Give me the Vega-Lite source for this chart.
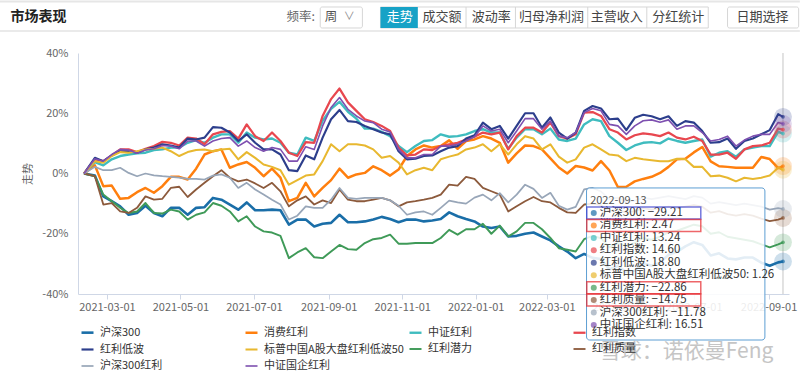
{
"$schema":"https://vega.github.io/schema/vega-lite/v6.json",
"width":711,"height":241,
"autosize":{"type":"none"},
"padding":{"left":78,"top":53,"right":11,"bottom":81},
"background":"#ffffff",
"config":{"font":"Noto Sans CJK SC","view":{"stroke":null},"axis":{"labelFont":"Noto Sans CJK SC","titleFont":"Noto Sans CJK SC"},"legend":{"labelFont":"Noto Sans CJK SC"}},
"datasets":{"main":[
{"d":"2021-02-10","沪深300":0,"消费红利":0,"中证红利":0,"红利指数":0,"红利低波":0,"标普中国A股大盘红利低波50":0,"红利潜力":0,"红利质量":0,"沪深300红利":0,"中证国企红利":0},
{"d":"2021-02-19","沪深300":-0.7,"消费红利":2.7,"中证红利":3.8,"红利指数":4.7,"红利低波":5.2,"标普中国A股大盘红利低波50":4.1,"红利潜力":-0.9,"红利质量":-0.9,"沪深300红利":2.2,"中证国企红利":4.9},
{"d":"2021-02-26","沪深300":-7.6,"消费红利":-4.2,"中证红利":2.7,"红利指数":4.1,"红利低波":4.1,"标普中国A股大盘红利低波50":3.6,"红利潜力":-7.0,"红利质量":-10.3,"沪深300红利":1.1,"中证国企红利":4.1},
{"d":"2021-03-05","沪深300":-9.2,"消费红利":-4.0,"中证红利":4.7,"红利指数":6.0,"红利低波":6.0,"标普中国A股大盘红利低波50":5.8,"红利潜力":-9.2,"红利质量":-9.8,"沪深300红利":1.1,"中证国企红利":6.3},
{"d":"2021-03-12","沪深300":-10.9,"消费红利":-8.4,"中证红利":5.8,"红利指数":8.0,"红利低波":7.4,"标普中国A股大盘红利低波50":7.1,"红利潜力":-11.4,"红利质量":-12.6,"沪深300红利":1.9,"中证国企红利":8.0},
{"d":"2021-03-19","沪深300":-13.7,"消费红利":-8.1,"中证红利":6.3,"红利指数":8.0,"红利低波":7.4,"标普中国A股大盘红利低波50":6.9,"红利潜力":-13.1,"红利质量":-13.1,"沪深300红利":0.2,"中证国企红利":7.8},
{"d":"2021-03-26","沪深300":-13.1,"消费红利":-6.2,"中证红利":6.7,"红利指数":7.1,"红利低波":6.9,"标普中国A股大盘红利低波50":7.4,"红利潜力":-12.6,"红利质量":-11.4,"沪深300红利":-0.9,"中证国企红利":6.7},
{"d":"2021-04-02","沪深300":-10.7,"消费红利":-4.8,"中证红利":6.9,"红利指数":8.2,"红利低波":8.0,"标普中国A股大盘红利低波50":8.0,"红利潜力":-9.8,"红利质量":-7.6,"沪深300红利":0,"中证国企红利":7.8},
{"d":"2021-04-09","沪深300":-13.1,"消费红利":-6.4,"中证红利":7.8,"红利指数":9.1,"红利低波":8.6,"标普中国A股大盘红利低波50":8.2,"红利潜力":-13.1,"红利质量":-8.7,"沪深300红利":-0.6,"中证国企红利":8.2},
{"d":"2021-04-16","沪深300":-14.2,"消费红利":-4.2,"中证红利":8.0,"红利指数":10.5,"红利低波":9.7,"标普中国A股大盘红利低波50":8.6,"红利潜力":-13.3,"红利质量":-8.4,"沪深300红利":-0.9,"中证国企红利":9.3},
{"d":"2021-04-23","沪深300":-11.4,"消费红利":-1.1,"中证红利":8.6,"红利指数":10.2,"红利低波":9.3,"标普中国A股大盘红利低波50":7.4,"红利潜力":-12.0,"红利质量":-4.8,"沪深300红利":-1.1,"中证国企红利":9.1},
{"d":"2021-04-30","沪深300":-11.4,"消费红利":-1.1,"中证红利":8.6,"红利指数":9.3,"红利低波":8.6,"标普中国A股大盘红利低波50":5.8,"红利潜力":-12.6,"红利质量":-4.4,"沪深300红利":-1.4,"中证国企红利":8.2},
{"d":"2021-05-07","沪深300":-13.7,"消费红利":-2.0,"中证红利":10.2,"红利指数":11.9,"红利低波":11.6,"标普中国A股大盘红利低波50":7.1,"红利潜力":-15.3,"红利质量":-7.8,"沪深300红利":-1.8,"中证国企红利":10.8},
{"d":"2021-05-14","沪深300":-11.4,"消费红利":1.6,"中证红利":11.1,"红利指数":11.6,"红利低波":11.3,"标普中国A股大盘红利低波50":7.8,"红利潜力":-13.7,"红利质量":-5.3,"沪深300红利":-1.8,"中证国企红利":10.8},
{"d":"2021-05-21","沪深300":-11.2,"消费红利":6.3,"中证红利":10.2,"红利指数":9.7,"红利低波":11.9,"标普中国A股大盘红利低波50":8.0,"红利潜力":-12.9,"红利质量":-3.1,"沪深300红利":-2.0,"中证国企红利":9.1},
{"d":"2021-05-28","沪深300":-8.1,"消费红利":7.4,"中证红利":11.9,"红利指数":13.0,"红利低波":15.4,"标普中国A股大盘红利低波50":7.4,"红利潜力":-9.8,"红利质量":-0.9,"沪深300红利":-0.7,"中证国企红利":10.8},
{"d":"2021-06-04","沪深300":-8.7,"消费红利":8.0,"中证红利":13.0,"红利指数":13.8,"红利低波":15.2,"标普中国A股大盘红利低波50":8.0,"红利潜力":-10.7,"红利质量":1.1,"沪深300红利":-0.3,"中证国企红利":11.6},
{"d":"2021-06-11","沪深300":-10.3,"消费红利":1.9,"中证红利":13.0,"红利指数":14.1,"红利低波":13.6,"标普中国A股大盘红利低波50":8.2,"红利潜力":-12.6,"红利质量":-1.4,"沪深300红利":-1.4,"中证国企红利":11.9},
{"d":"2021-06-18","沪深300":-12.0,"消费红利":3.0,"中证红利":10.2,"红利指数":11.6,"红利低波":10.8,"标普中国A股大盘红利低波50":4.7,"红利潜力":-15.9,"红利质量":-2.6,"沪深300红利":-4.8,"中证国企红利":9.1},
{"d":"2021-06-25","沪深300":-9.6,"消费红利":3.8,"中证红利":13.6,"红利指数":16.3,"红利低波":13.0,"标普中国A股大盘红利低波50":7.1,"红利潜力":-14.2,"红利质量":-2.0,"沪深300红利":-3.1,"中证国企红利":10.8},
{"d":"2021-07-02","沪深300":-12.2,"消费红利":1.9,"中证红利":11.9,"红利指数":12.4,"红利低波":10.2,"标普中国A股大盘红利低波50":5.2,"红利潜力":-17.6,"红利质量":-3.3,"沪深300红利":-5.3,"中证国企红利":8.6},
{"d":"2021-07-09","沪深300":-12.2,"消费红利":-0.9,"中证红利":11.3,"红利指数":10.8,"红利低波":8.0,"标普中国A股大盘红利低波50":3.0,"红利潜力":-19.2,"红利质量":-4.8,"沪深300红利":-7.0,"中证国企红利":7.4},
{"d":"2021-07-16","沪深300":-12.0,"消费红利":1.6,"中证红利":11.6,"红利指数":13.6,"红利低波":8.0,"标普中国A股大盘红利低波50":2.2,"红利潜力":-19.6,"红利质量":-3.1,"沪深300红利":-8.7,"中证国企红利":8.6},
{"d":"2021-07-23","沪深300":-12.2,"消费红利":-1.4,"中证红利":10.2,"红利指数":10.8,"红利低波":6.3,"标普中国A股大盘红利低波50":1.1,"红利潜力":-20.7,"红利质量":-5.9,"沪深300红利":-10.3,"中证国企红利":8.0},
{"d":"2021-07-30","沪深300":-17.0,"消费红利":-9.2,"中证红利":6.9,"红利指数":6.9,"红利低波":1.1,"标普中国A股大盘红利低波50":-3.7,"红利潜力":-28.1,"红利质量":-10.9,"沪深300红利":-15.3,"中证国企红利":4.1},
{"d":"2021-08-06","沪深300":-15.3,"消费红利":-8.1,"中证红利":6.3,"红利指数":5.8,"红利低波":0.8,"标普中国A股大盘红利低波50":-2.2,"红利潜力":-26.2,"红利质量":-8.9,"沪深300红利":-14.0,"中证国企红利":4.1},
{"d":"2021-08-13","沪深300":-15.3,"消费红利":-3.1,"中证红利":11.9,"红利指数":10.4,"红利低波":6.0,"标普中国A股大盘红利低波50":-0.7,"红利潜力":-24.8,"红利质量":-7.6,"沪深300红利":-10.9,"中证国企红利":8.9},
{"d":"2021-08-20","沪深300":-17.6,"消费红利":-7.6,"中证红利":10.8,"红利指数":10.2,"红利低波":4.7,"标普中国A股大盘红利低波50":-0.3,"红利潜力":-27.8,"红利质量":-10.3,"沪深300红利":-11.4,"中证国企红利":8.0},
{"d":"2021-08-27","沪深300":-16.7,"消费红利":-4.8,"中证红利":17.5,"红利指数":19.1,"红利低波":11.9,"标普中国A股大盘红利低波50":4.1,"红利潜力":-28.1,"红利质量":-8.9,"沪深300红利":-11.4,"中证国企红利":15.8},
{"d":"2021-09-03","沪深300":-16.4,"消费红利":-2.2,"中证红利":21.5,"红利指数":24.7,"红利低波":18.0,"标普中国A股大盘红利低波50":9.7,"红利潜力":-25.9,"红利质量":-9.8,"沪深300红利":-8.7,"中证国企红利":21.9},
{"d":"2021-09-10","沪深300":-13.7,"消费红利":1.6,"中证红利":23.8,"红利指数":28.2,"红利低波":21.1,"标普中国A股大盘红利低波50":7.4,"红利潜力":-23.7,"红利质量":-5.3,"沪深300红利":-4.8,"中证国企红利":25.2},
{"d":"2021-09-17","沪深300":-16.2,"消费红利":-1.4,"中证红利":20.5,"红利指数":23.6,"红利低波":17.4,"标普中国A股大盘红利低波50":9.7,"红利潜力":-25.1,"红利质量":-8.7,"沪深300红利":-8.1,"中证国企红利":21.3},
{"d":"2021-09-24","沪深300":-16.2,"消费红利":-0.3,"中证红利":18.2,"红利指数":20.8,"红利低波":17.1,"标普中国A股大盘红利低波50":9.7,"红利潜力":-25.3,"红利质量":-9.2,"沪深300红利":-8.4,"中证国企红利":19.1},
{"d":"2021-10-01","沪深300":-15.9,"消费红利":0.2,"中证红利":14.9,"红利指数":18.0,"红利低波":15.8,"标普中国A股大盘红利低波50":9.3,"红利潜力":-23.1,"红利质量":-9.2,"沪深300红利":-8.1,"中证国企红利":17.4},
{"d":"2021-10-08","沪深300":-15.3,"消费红利":2.4,"中证红利":14.9,"红利指数":17.1,"红利低波":14.7,"标普中国A股大盘红利低波50":8.0,"红利潜力":-21.8,"红利质量":-8.7,"沪深300红利":-8.1,"中证国企红利":16.9},
{"d":"2021-10-15","沪深300":-14.4,"消费红利":1.1,"中证红利":13.8,"红利指数":15.8,"红利低波":13.6,"标普中国A股大盘红利低波50":5.2,"红利潜力":-21.4,"红利质量":-8.1,"沪深300红利":-8.1,"中证国企红利":14.7},
{"d":"2021-10-22","沪深300":-15.1,"消费红利":-0.7,"中证红利":12.4,"红利指数":14.1,"红利低波":13.0,"标普中国A股大盘红利低波50":5.8,"红利潜力":-20.3,"红利质量":-8.9,"沪深300红利":-8.9,"中证国企红利":13.8},
{"d":"2021-10-29","沪深300":-16.2,"消费红利":1.3,"中证红利":9.1,"红利指数":8.6,"红利低波":7.4,"标普中国A股大盘红利低波50":3.6,"红利潜力":-23.3,"红利质量":-10.9,"沪深300红利":-10.7,"中证国企红利":8.0},
{"d":"2021-11-05","沪深300":-15.3,"消费红利":5.8,"中证红利":7.1,"红利指数":6.0,"红利低波":4.7,"标普中国A股大盘红利低波50":-0.3,"红利潜力":-23.3,"红利质量":-9.6,"沪深300红利":-13.7,"中证国企红利":5.2},
{"d":"2021-11-12","沪深300":-15.3,"消费红利":8.0,"中证红利":9.1,"红利指数":6.3,"红利低波":4.9,"标普中国A股大盘红利低波50":1.1,"红利潜力":-23.1,"红利质量":-9.2,"沪深300红利":-12.9,"中证国企红利":5.2},
{"d":"2021-11-19","沪深300":-15.9,"消费红利":9.3,"中证红利":10.8,"红利指数":8.0,"红利低波":5.8,"标普中国A股大盘红利低波50":1.9,"红利潜力":-23.1,"红利质量":-8.7,"沪深300红利":-12.6,"中证国企红利":6.3},
{"d":"2021-11-26","沪深300":-15.6,"消费红利":8.6,"中证红利":11.1,"红利指数":7.8,"红利低波":6.0,"标普中国A股大盘红利低波50":1.1,"红利潜力":-23.1,"红利质量":-8.1,"沪深300红利":-13.7,"中证国企红利":6.3},
{"d":"2021-12-03","沪深300":-15.1,"消费红利":9.1,"中证红利":13.0,"红利指数":9.1,"红利低波":7.4,"标普中国A股大盘红利低波50":4.7,"红利潜力":-21.4,"红利质量":-7.0,"沪深300红利":-11.4,"中证国企红利":9.1},
{"d":"2021-12-10","沪深300":-12.9,"消费红利":11.0,"中证红利":12.2,"红利指数":9.7,"红利低波":8.6,"标普中国A股大盘红利低波50":5.6,"红利潜力":-18.7,"红利质量":-3.7,"沪深300红利":-9.0,"中证国企红利":9.1},
{"d":"2021-12-17","沪深300":-14.2,"消费红利":8.2,"中证红利":12.4,"红利指数":10.2,"红利低波":9.1,"标普中国A股大盘红利低波50":6.3,"红利潜力":-20.3,"红利质量":-4.0,"沪深300红利":-9.6,"中证国企红利":9.7},
{"d":"2021-12-24","沪深300":-15.1,"消费红利":10.8,"中证红利":13.0,"红利指数":11.3,"红利低波":11.6,"标普中国A股大盘红利低波50":8.0,"红利潜力":-18.5,"红利质量":-1.1,"沪深300红利":-10.0,"中证国企红利":10.8},
{"d":"2021-12-31","沪深300":-15.9,"消费红利":11.3,"中证红利":14.1,"红利指数":12.2,"红利低波":12.7,"标普中国A股大盘红利低波50":8.6,"红利潜力":-18.5,"红利质量":-1.8,"沪深300红利":-8.0,"中证国企红利":12.2},
{"d":"2022-01-07","沪深300":-17.6,"消费红利":12.4,"中证红利":14.7,"红利指数":13.6,"红利低波":16.9,"标普中国A股大盘红利低波50":9.7,"红利潜力":-16.7,"红利质量":-4.8,"沪深300红利":-7.0,"中证国企红利":15.8},
{"d":"2022-01-14","沪深300":-18.1,"消费红利":11.6,"中证红利":13.6,"红利指数":13.0,"红利低波":14.7,"标普中国A股大盘红利低波50":7.4,"红利潜力":-20.0,"红利质量":-5.9,"沪深300红利":-8.9,"中证国企红利":14.1},
{"d":"2022-01-21","沪深300":-17.6,"消费红利":10.2,"中证红利":13.6,"红利指数":13.6,"红利低波":15.8,"标普中国A股大盘红利低波50":9.7,"红利潜力":-17.3,"红利质量":-7.0,"沪深300红利":-6.5,"中证国企红利":14.7},
{"d":"2022-01-28","沪深300":-20.9,"消费红利":3.6,"中证红利":8.2,"红利指数":8.0,"红利低波":11.6,"标普中国A股大盘红利低波50":6.3,"红利潜力":-20.9,"红利质量":-12.6,"沪深300红利":-9.6,"中证国企红利":10.2},
{"d":"2022-02-04","沪深300":-20.7,"消费红利":6.7,"中证红利":11.9,"红利指数":12.4,"红利低波":15.8,"标普中国A股大盘红利低波50":9.7,"红利潜力":-19.2,"红利质量":-10.9,"沪深300红利":-7.0,"中证国企红利":14.1},
{"d":"2022-02-11","沪深300":-20.0,"消费红利":9.3,"中证红利":14.7,"红利指数":15.2,"红利低波":20.0,"标普中国A股大盘红利低波50":12.4,"红利潜力":-16.4,"红利质量":-9.2,"沪深300红利":-3.7,"中证国企红利":18.2},
{"d":"2022-02-18","沪深300":-19.6,"消费红利":9.1,"中证红利":14.7,"红利指数":15.2,"红利低波":20.0,"标普中国A股大盘红利低波50":11.6,"红利潜力":-16.4,"红利质量":-7.8,"沪深300红利":-5.1,"中证国企红利":18.2},
{"d":"2022-02-25","沪深300":-20.9,"消费红利":8.0,"中证红利":13.0,"红利指数":13.6,"红利低波":15.2,"标普中国A股大盘红利低波50":8.0,"红利潜力":-18.5,"红利质量":-9.2,"沪深300红利":-8.1,"中证国企红利":14.7},
{"d":"2022-03-04","沪深300":-22.2,"消费红利":5.0,"中证红利":14.9,"红利指数":16.9,"红利低波":18.6,"标普中国A股大盘红利低波50":9.7,"红利潜力":-21.4,"红利质量":-9.6,"沪深300红利":-6.4,"中证国企红利":17.4},
{"d":"2022-03-11","沪深300":-24.2,"消费红利":2.0,"中证红利":11.3,"红利指数":12.4,"红利低波":13.6,"标普中国A股大盘红利低波50":5.6,"红利潜力":-24.8,"红利质量":-11.4,"沪深300红利":-10.7,"中证国企红利":12.4},
{"d":"2022-03-18","沪深300":-25.9,"消费红利":0.0,"中证红利":10.8,"红利指数":11.6,"红利低波":11.6,"标普中国A股大盘红利低波50":3.6,"红利潜力":-25.3,"红利质量":-12.9,"沪深300红利":-12.0,"中证国企红利":11.9},
{"d":"2022-03-25","沪深300":-28.1,"消费红利":2.5,"中证红利":11.6,"红利指数":13.0,"红利低波":13.6,"标普中国A股大盘红利低波50":4.7,"红利潜力":-25.9,"红利质量":-13.1,"沪深300红利":-11.1,"中证国企红利":13.6},
{"d":"2022-04-01","沪深300":-26.7,"消费红利":2.0,"中证红利":16.3,"红利指数":20.2,"红利低波":20.8,"标普中国A股大盘红利低波50":8.6,"红利潜力":-21.8,"红利质量":-10.3,"沪深300红利":-5.3,"中证国企红利":20.2},
{"d":"2022-04-08","沪深300":-28.0,"消费红利":1.0,"中证红利":18.0,"红利指数":20.4,"红利低波":22.4,"标普中国A股大盘红利低波50":9.7,"红利潜力":-20.7,"红利质量":-10.0,"沪深300红利":-4.8,"中证国企红利":21.6},
{"d":"2022-04-15","沪深300":-28.4,"消费红利":4.1,"中证红利":17.4,"红利指数":19.1,"红利低波":21.6,"标普中国A股大盘红利低波50":8.0,"红利潜力":-21.5,"红利质量":-10.5,"沪深300红利":-6.0,"中证国企红利":20.8},
{"d":"2022-04-22","沪深300":-31.8,"消费红利":1.0,"中证红利":12.4,"红利指数":14.7,"红利低波":18.0,"标普中国A股大盘红利低波50":6.3,"红利潜力":-24.5,"红利质量":-12.5,"沪深300红利":-8.5,"中证国企红利":16.3},
{"d":"2022-04-29","沪深300":-30.8,"消费红利":-4.5,"中证红利":10.2,"红利指数":13.6,"红利低波":18.2,"标普中国A股大盘红利低波50":6.0,"红利潜力":-23.0,"红利质量":-12.0,"沪深300红利":-8.0,"中证国企红利":15.8},
{"d":"2022-05-06","沪深300":-32.7,"消费红利":-4.4,"中证红利":7.8,"红利指数":11.3,"红利低波":14.4,"标普中国A股大盘红利低波50":4.1,"红利潜力":-24.0,"红利质量":-13.0,"沪深300红利":-9.5,"中证国企红利":13.0},
{"d":"2022-05-13","沪深300":-32.3,"消费红利":-2.6,"中证红利":9.3,"红利指数":12.7,"红利低波":18.5,"标普中国A股大盘红利低波50":5.2,"红利潜力":-23.0,"红利质量":-12.5,"沪深300红利":-9.0,"中证国企红利":15.8},
{"d":"2022-05-20","沪深300":-29.8,"消费红利":-1.8,"中证红利":10.2,"红利指数":13.3,"红利低波":19.5,"标普中国A股大盘红利低波50":4.7,"红利潜力":-21.5,"红利质量":-11.5,"沪深300红利":-8.0,"中证国企红利":17.5},
{"d":"2022-05-27","沪深300":-30.6,"消费红利":-1.1,"中证红利":10.4,"红利指数":13.0,"红利低波":19.0,"标普中国A股大盘红利低波50":4.4,"红利潜力":-22.0,"红利质量":-12.0,"沪深300红利":-8.5,"中证国企红利":17.8},
{"d":"2022-06-03","沪深300":-29.6,"消费红利":0.2,"中证红利":10.0,"红利指数":12.4,"红利低波":18.0,"标普中国A股大盘红利低波50":4.1,"红利潜力":-21.0,"红利质量":-11.5,"沪深300红利":-8.0,"中证国企红利":17.0},
{"d":"2022-06-10","沪深300":-27.0,"消费红利":2.2,"中证红利":11.6,"红利指数":13.6,"红利低波":19.0,"标普中国A股大盘红利低波50":4.1,"红利潜力":-19.5,"红利质量":-11.0,"沪深300红利":-7.5,"中证国企红利":17.8},
{"d":"2022-06-17","沪深300":-26.0,"消费红利":4.7,"中证红利":10.8,"红利指数":11.9,"红利低波":15.8,"标普中国A股大盘红利低波50":4.9,"红利潜力":-19.0,"红利质量":-11.5,"沪深300红利":-8.0,"中证国企红利":14.7},
{"d":"2022-06-24","沪深300":-24.2,"消费红利":4.9,"中证红利":10.2,"红利指数":11.3,"红利低波":17.4,"标普中国A股大盘红利低波50":4.7,"红利潜力":-18.0,"红利质量":-11.0,"沪深300红利":-8.5,"中证国企红利":15.8},
{"d":"2022-07-01","沪深300":-22.8,"消费红利":7.0,"中证红利":10.8,"红利指数":12.2,"红利低波":16.9,"标普中国A股大盘红利低波50":2.2,"红利潜力":-17.0,"红利质量":-10.5,"沪深300红利":-7.5,"中证国企红利":15.8},
{"d":"2022-07-08","沪深300":-23.7,"消费红利":8.8,"中证红利":11.3,"红利指数":10.8,"红利低波":14.1,"标普中国A股大盘红利低波50":2.2,"红利潜力":-17.5,"红利质量":-11.0,"沪深300红利":-8.0,"中证国企红利":13.6},
{"d":"2022-07-15","沪深300":-27.2,"消费红利":4.0,"中证红利":5.6,"红利指数":6.3,"红利低波":10.2,"标普中国A股大盘红利低波50":-0.9,"红利潜力":-20.0,"红利质量":-13.0,"沪深300红利":-10.0,"中证国企红利":10.8},
{"d":"2022-07-22","沪深300":-26.5,"消费红利":2.4,"中证红利":6.9,"红利指数":6.3,"红利低波":10.4,"标普中国A股大盘红利低波50":-0.7,"红利潜力":-19.5,"红利质量":-12.5,"沪深300红利":-9.5,"中证国企红利":11.3},
{"d":"2022-07-29","沪深300":-28.2,"消费红利":2.2,"中证红利":7.4,"红利指数":6.9,"红利低波":11.6,"标普中国A股大盘红利低波50":-1.4,"红利潜力":-21.0,"红利质量":-13.5,"沪深300红利":-10.0,"中证国企红利":12.4},
{"d":"2022-08-05","沪深300":-28.5,"消费红利":1.9,"中证红利":5.6,"红利指数":4.9,"红利低波":8.2,"标普中国A股大盘红利低波50":-2.6,"红利潜力":-21.5,"红利质量":-14.0,"沪深300红利":-10.5,"中证国企红利":9.1},
{"d":"2022-08-12","沪深300":-27.9,"消费红利":1.9,"中证红利":8.0,"红利指数":8.0,"红利低波":10.8,"标普中国A股大盘红利低波50":-1.4,"红利潜力":-22.0,"红利质量":-13.5,"沪深300红利":-10.0,"中证国企红利":11.1},
{"d":"2022-08-19","沪深300":-27.9,"消费红利":1.9,"中证红利":8.6,"红利指数":9.1,"红利低波":11.6,"标普中国A股大盘红利低波50":-1.8,"红利潜力":-22.5,"红利质量":-14.0,"沪深300红利":-10.5,"中证国企红利":12.4},
{"d":"2022-08-26","沪深300":-29.6,"消费红利":5.5,"中证红利":9.1,"红利指数":9.3,"红利低波":13.0,"标普中国A股大盘红利低波50":-1.4,"红利潜力":-23.5,"红利质量":-15.0,"沪深300红利":-11.0,"中证国企红利":13.0},
{"d":"2022-09-02","沪深300":-30.6,"消费红利":4.8,"中证红利":9.1,"红利指数":10.2,"红利低波":14.4,"标普中国A股大盘红利低波50":-0.7,"红利潜力":-24.5,"红利质量":-15.8,"沪深300红利":-12.0,"中证国企红利":13.0},
{"d":"2022-09-09","沪深300":-29.5,"消费红利":1.8,"中证红利":13.8,"红利指数":14.9,"红利低波":19.7,"标普中国A股大盘红利低波50":1.9,"红利潜力":-23.5,"红利质量":-15.3,"沪深300红利":-11.5,"中证国企红利":16.9},
{"d":"2022-09-13","沪深300":-29.21,"消费红利":2.47,"中证红利":13.24,"红利指数":14.60,"红利低波":18.80,"标普中国A股大盘红利低波50":1.26,"红利潜力":-22.86,"红利质量":-14.75,"沪深300红利":-11.78,"中证国企红利":16.51}
]},
"resolve":{"scale":{"y":"independent"}},
"layer":[
{"layer":[
 {"data":{"values":[{}]},"mark":{"type":"rule","color":"#e6e6e6","strokeWidth":2},"encoding":{"x":{"datum":{"year":2020,"month":12,"date":2},"type":"temporal"},"x2":{"datum":{"year":2022,"month":9,"date":27}},"y":{"datum":57.1,"type":"quantitative"}}},
 {"data":{"values":[{}]},"mark":{"type":"rule","color":"#e3e3e3","strokeWidth":1.5},"encoding":{"x":{"datum":{"year":2020,"month":12,"date":2},"type":"temporal"},"x2":{"datum":{"year":2022,"month":9,"date":27}},"y":{"datum":47.3,"type":"quantitative"}}},
 {"data":{"values":[{}]},"mark":{"type":"text","text":"市场表现","align":"left","baseline":"middle","fontSize":14,"fontWeight":"bold","color":"#222222"},"encoding":{"x":{"datum":{"year":2020,"month":12,"date":11},"type":"temporal"},"y":{"datum":51.95,"type":"quantitative"}}},
 {"data":{"values":[{}]},"mark":{"type":"text","text":"频率:","align":"left","baseline":"middle","fontSize":12.5,"color":"#666666"},"encoding":{"x":{"datum":{"year":2021,"month":7,"date":28},"type":"temporal"},"y":{"datum":51.95,"type":"quantitative"}}},
 {"data":{"values":[{}]},"mark":{"type":"rect","fill":"#ffffff","stroke":"#d6d6d6","cornerRadius":2},"encoding":{"x":{"datum":{"year":2021,"month":8,"date":25},"type":"temporal"},"x2":{"datum":{"year":2021,"month":9,"date":29}},"y":{"datum":55.27,"type":"quantitative"},"y2":{"datum":48.3}}},
 {"data":{"values":[{}]},"mark":{"type":"text","text":"周","align":"center","baseline":"middle","fontSize":12.5,"color":"#555555"},"encoding":{"x":{"datum":{"year":2021,"month":9,"date":3},"type":"temporal"},"y":{"datum":51.95,"type":"quantitative"}}},
 {"data":{"values":[{}]},"mark":{"type":"text","text":"∨","align":"center","baseline":"middle","fontSize":11,"color":"#888888"},"encoding":{"x":{"datum":{"year":2021,"month":9,"date":18},"type":"temporal"},"y":{"datum":51.95,"type":"quantitative"}}},
 {"data":{"values":[{}]},"mark":{"type":"rect","fill":"#ffffff","stroke":"#d6d6d6"},"encoding":{"x":{"datum":{"year":2021,"month":10,"date":14},"type":"temporal"},"x2":{"datum":{"year":2022,"month":7,"date":13}},"y":{"datum":55.27,"type":"quantitative"},"y2":{"datum":48.3}}},
 {"data":{"values":[{}]},"mark":{"type":"rect","fill":"#17a2c6"},"encoding":{"x":{"datum":{"year":2021,"month":10,"date":14},"type":"temporal"},"x2":{"datum":{"year":2021,"month":11,"date":14}},"y":{"datum":55.27,"type":"quantitative"},"y2":{"datum":48.3}}},
 {"data":{"values":[{}]},"mark":{"type":"rule","color":"#d6d6d6"},"encoding":{"x":{"datum":{"year":2021,"month":12,"date":24},"type":"temporal"},"y":{"datum":55.27,"type":"quantitative"},"y2":{"datum":48.3}}},
 {"data":{"values":[{}]},"mark":{"type":"rule","color":"#d6d6d6"},"encoding":{"x":{"datum":{"year":2022,"month":2,"date":3},"type":"temporal"},"y":{"datum":55.27,"type":"quantitative"},"y2":{"datum":48.3}}},
 {"data":{"values":[{}]},"mark":{"type":"rule","color":"#d6d6d6"},"encoding":{"x":{"datum":{"year":2022,"month":4,"date":4},"type":"temporal"},"y":{"datum":55.27,"type":"quantitative"},"y2":{"datum":48.3}}},
 {"data":{"values":[{}]},"mark":{"type":"rule","color":"#d6d6d6"},"encoding":{"x":{"datum":{"year":2022,"month":5,"date":23},"type":"temporal"},"y":{"datum":55.27,"type":"quantitative"},"y2":{"datum":48.3}}},
 {"data":{"values":[{}]},"mark":{"type":"text","text":"走势","align":"center","baseline":"middle","fontSize":13,"color":"#ffffff"},"encoding":{"x":{"datum":{"year":2021,"month":10,"date":30},"type":"temporal"},"y":{"datum":51.95,"type":"quantitative"}}},
 {"data":{"values":[{}]},"mark":{"type":"text","text":"成交额","align":"center","baseline":"middle","fontSize":13,"color":"#444444"},"encoding":{"x":{"datum":{"year":2021,"month":12,"date":4},"type":"temporal"},"y":{"datum":51.95,"type":"quantitative"}}},
 {"data":{"values":[{}]},"mark":{"type":"text","text":"波动率","align":"center","baseline":"middle","fontSize":13,"color":"#444444"},"encoding":{"x":{"datum":{"year":2022,"month":1,"date":14},"type":"temporal"},"y":{"datum":51.95,"type":"quantitative"}}},
 {"data":{"values":[{}]},"mark":{"type":"text","text":"归母净利润","align":"center","baseline":"middle","fontSize":13,"color":"#444444"},"encoding":{"x":{"datum":{"year":2022,"month":3,"date":5},"type":"temporal"},"y":{"datum":51.95,"type":"quantitative"}}},
 {"data":{"values":[{}]},"mark":{"type":"text","text":"主营收入","align":"center","baseline":"middle","fontSize":13,"color":"#444444"},"encoding":{"x":{"datum":{"year":2022,"month":4,"date":28},"type":"temporal"},"y":{"datum":51.95,"type":"quantitative"}}},
 {"data":{"values":[{}]},"mark":{"type":"text","text":"分红统计","align":"center","baseline":"middle","fontSize":13,"color":"#444444"},"encoding":{"x":{"datum":{"year":2022,"month":6,"date":18},"type":"temporal"},"y":{"datum":51.95,"type":"quantitative"}}},
 {"data":{"values":[{}]},"mark":{"type":"rect","fill":"#ffffff","stroke":"#d6d6d6","cornerRadius":2},"encoding":{"x":{"datum":{"year":2022,"month":7,"date":29},"type":"temporal"},"x2":{"datum":{"year":2022,"month":9,"date":26}},"y":{"datum":55.27,"type":"quantitative"},"y2":{"datum":48.3}}},
 {"data":{"values":[{}]},"mark":{"type":"text","text":"日期选择","align":"center","baseline":"middle","fontSize":13,"color":"#444444"},"encoding":{"x":{"datum":{"year":2022,"month":8,"date":27},"type":"temporal"},"y":{"datum":51.95,"type":"quantitative"}}},
 {"data":{"values":[{}]},"mark":{"type":"rule","color":"#d9d9d9","strokeWidth":1.5},"encoding":{"x":{"datum":{"year":2022,"month":9,"date":13},"type":"temporal"}}},
 {"data":{"name":"main"},
  "transform":[{"fold":["沪深300","消费红利","中证红利","红利指数","红利低波","标普中国A股大盘红利低波50","红利潜力","红利质量","沪深300红利","中证国企红利"],"as":["series","value"]}],
  "mark":{"type":"line","interpolate":"linear","strokeJoin":"round"},
  "encoding":{
   "x":{"field":"d","type":"temporal","scale":{"domain":[{"year":2021,"month":2,"date":5},{"year":2022,"month":9,"date":18}]},
        "axis":{"title":null,"values":[{"year":2021,"month":3,"date":1},{"year":2021,"month":5,"date":1},{"year":2021,"month":7,"date":1},{"year":2021,"month":9,"date":1},{"year":2021,"month":11,"date":1},{"year":2022,"month":1,"date":1},{"year":2022,"month":3,"date":1},{"year":2022,"month":5,"date":1},{"year":2022,"month":7,"date":1},{"year":2022,"month":9,"date":1}],
                "format":"%Y-%m-%d","grid":false,"labelFontSize":11,"labelColor":"#666666","tickColor":"#cfd7e6","domainColor":"#cfd7e6","tickSize":5,"labelPadding":2,"labelFlush":false,"labelOverlap":false}},
   "y":{"field":"value","type":"quantitative","scale":{"domain":[-40,40],"nice":false,"zero":false},
        "axis":{"title":"走势","values":[-40,-20,0,20,40],"labelExpr":"datum.value + '%'","ticks":false,"tickSize":0,"labelPadding":10,"labelFontSize":11,"labelColor":"#666666","titleFontSize":11,"titleFontWeight":"normal","titleColor":"#666666","titlePadding":8,"domainColor":"#cfd7e6","gridColor":"#e8e8e8"}},
   "color":{"field":"series","type":"nominal",
        "scale":{"domain":["沪深300","消费红利","中证红利","红利指数","红利低波","标普中国A股大盘红利低波50","红利潜力","红利质量","沪深300红利","中证国企红利"],
                 "range":["#1a6ea8","#ff7f0e","#3fbcbf","#e8474f","#2c3e8c","#e8b830","#3f9a58","#8c5a3c","#98a6b8","#7e50b0"]},
        "legend":{"orient":"none","legendX":2,"legendY":272,"columns":4,"direction":"horizontal","title":null,"symbolType":"stroke","symbolSize":144,"symbolStrokeWidth":2,"symbolOpacity":1,"labelFontSize":11,"labelColor":"#333333","gridAlign":"all","columnPadding":0,"rowPadding":4,"labelOffset":5,"labelLimit":300,
                  "encode":{"symbols":{"update":{"opacity":{"value":1},"strokeOpacity":{"value":1},"strokeWidth":{"value":2}}}}}},
   "strokeWidth":{"field":"series","type":"ordinal","scale":{"domain":["沪深300","消费红利","中证红利","红利指数","红利低波","标普中国A股大盘红利低波50","红利潜力","红利质量","沪深300红利","中证国企红利"],"range":[2.6,1.6,1.6,1.6,1.6,1.6,1.6,1.6,1.6,1.6]},"legend":null}
  }},
 {"data":{"name":"main"},
  "transform":[{"fold":["沪深300","消费红利","中证红利","红利指数","红利低波","标普中国A股大盘红利低波50","红利潜力","红利质量","沪深300红利","中证国企红利"],"as":["series","value"]},{"filter":"time(datum.d) === time('2022-09-13')"}],
  "mark":{"type":"point","filled":true,"fillOpacity":0.22,"strokeWidth":0,"size":320},
  "encoding":{"x":{"field":"d","type":"temporal"},"y":{"field":"value","type":"quantitative"},"color":{"field":"series","type":"nominal"}}},
 {"data":{"name":"main"},
  "transform":[{"fold":["沪深300","消费红利","中证红利","红利指数","红利低波","标普中国A股大盘红利低波50","红利潜力","红利质量","沪深300红利","中证国企红利"],"as":["series","value"]},{"filter":"time(datum.d) === time('2022-09-13')"}],
  "mark":{"type":"point","filled":true,"size":14},
  "encoding":{"x":{"field":"d","type":"temporal"},"y":{"field":"value","type":"quantitative"},"color":{"field":"series","type":"nominal"}}},
 {"data":{"values":[{}]},"mark":{"type":"rect","fill":"#ffffff","fillOpacity":0.88,"stroke":"#5d9ed3","strokeWidth":1,"cornerRadius":3},"encoding":{"x":{"datum":{"year":2022,"month":4,"date":3},"type":"temporal"},"x2":{"datum":{"year":2022,"month":8,"date":29}},"y":{"datum":-4.8,"type":"quantitative"},"y2":{"datum":-55.27}}},
 {"data":{"values":[{}]},"mark":{"type":"text","text":"2022-09-13","align":"left","baseline":"middle","fontSize":11,"color":"#555555"},"encoding":{"x":{"datum":{"year":2022,"month":4,"date":6},"type":"temporal"},"y":{"datum":-9.13,"type":"quantitative"}}},
 {"data":{"values":[{}]},"mark":{"type":"text","text":"雪球：诺依曼Feng","align":"left","baseline":"middle","fontSize":21,"color":"#bcbcbc","opacity":0.85},"encoding":{"x":{"datum":{"year":2022,"month":4,"date":14},"type":"temporal"},"y":{"datum":-59.25,"type":"quantitative"}}}
]},
{"data":{"name":"main"},
 "transform":[{"fold":["沪深300","消费红利","中证红利","红利指数","红利低波","标普中国A股大盘红利低波50","红利潜力","红利质量","沪深300红利","中证国企红利"],"as":["series","value"]},{"filter":"time(datum.d) === time('2022-09-13')"},{"calculate":"datum.series + ': ' + format(datum.value, '.2f')","as":"label"}],
 "encoding":{"y":{"field":"series","type":"nominal","scale":{"type":"point","domain":["沪深300","消费红利","中证红利","红利指数","红利低波","标普中国A股大盘红利低波50","红利潜力","红利质量","沪深300红利","中证国企红利"],"range":[160,272],"padding":0},"axis":null}},
 "layer":[
  {"mark":{"type":"point","filled":true,"size":36},"encoding":{"x":{"datum":{"year":2022,"month":4,"date":9},"type":"temporal"},"color":{"field":"series","type":"nominal"}}},
  {"mark":{"type":"text","align":"left","baseline":"middle","fontSize":11.5,"color":"#333333"},"encoding":{"x":{"datum":{"year":2022,"month":4,"date":14},"type":"temporal"},"text":{"field":"label"}}},
  {"transform":[{"filter":"datum.series === '沪深300'"}],"mark":{"type":"point","shape":"M-11.4,-1.2H11.4V1.2H-11.4Z","size":100,"filled":false,"stroke":"#3a3fd0","strokeWidth":1.5},"encoding":{"x":{"datum":{"year":2022,"month":5,"date":20,"hours":12},"type":"temporal"}}},
  {"transform":[{"filter":"indexof(['消费红利','红利潜力','红利质量'], datum.series) >= 0"}],"mark":{"type":"point","shape":"M-11.4,-1.2H11.4V1.2H-11.4Z","size":100,"filled":false,"stroke":"#e8262b","strokeWidth":1.5},"encoding":{"x":{"datum":{"year":2022,"month":5,"date":20,"hours":12},"type":"temporal"}}}
 ]}
]
}
